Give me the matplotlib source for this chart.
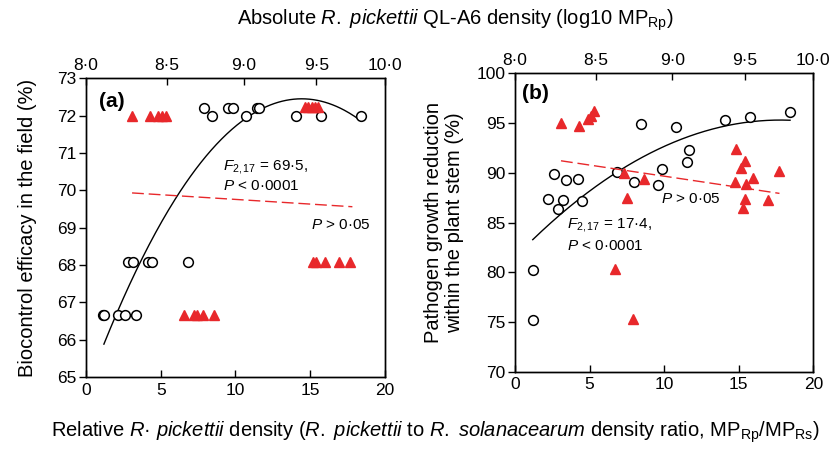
import numpy as np
import matplotlib
matplotlib.use("Agg")
import matplotlib.pyplot as plt
from matplotlib.ticker import NullLocator

plt.rcParams.update({
    "font.family": "Liberation Sans",
    "font.size": 12,
    "mathtext.fontset": "custom",
    "mathtext.rm": "Liberation Sans",
    "mathtext.it": "Liberation Sans:italic",
    "mathtext.bf": "Liberation Sans:bold",
    "axes.linewidth": 1.0,
})

RED = "#e8282b"

# ── data: relative density (bottom axis), open circles ──────────────────────
a_rel_x = [1.12, 1.22, 2.16, 2.63, 3.34, 2.83, 3.17, 4.17, 4.44, 6.80,
           7.89, 9.48, 9.81, 11.42, 11.57, 8.45, 10.70, 14.05, 15.72, 18.37]
a_rel_y = [66.67, 66.67, 66.67, 66.67, 66.67, 68.08, 68.08, 68.08, 68.08, 68.08,
           72.21, 72.21, 72.21, 72.21, 72.21, 72.0, 72.0, 72.0, 72.0, 72.0]

# absolute density (top axis, log10 MP_Rp), red triangles
a_abs_x = [8.28, 8.39, 8.44, 8.47, 8.49, 9.42, 9.44, 9.47, 9.49, 9.51,
           9.48, 9.50, 9.56, 9.66, 9.74, 8.61, 8.67, 8.69, 8.73, 8.80]
a_abs_y = [72.0, 72.0, 72.0, 72.0, 72.0, 72.24, 72.24, 72.24, 72.24, 72.24,
           68.08, 68.08, 68.08, 68.08, 68.08, 66.67, 66.67, 66.67, 66.67, 66.67]

b_rel_x = [2.23, 2.86, 3.19, 2.64, 3.42, 4.25, 4.47, 6.86, 7.98, 8.47,
           9.59, 9.88, 10.77, 11.53, 11.64, 14.08, 15.78, 18.44, 1.19, 1.23]
b_rel_y = [87.36, 86.36, 87.26, 89.88, 89.27, 89.34, 87.16, 90.11, 89.04, 94.90,
           88.77, 90.38, 94.63, 91.08, 92.29, 95.34, 95.61, 96.14, 80.26, 75.20]

b_abs_x = [8.28, 8.39, 8.45, 8.47, 8.49, 8.68, 8.70, 8.81, 9.44, 9.43,
           9.47, 9.50, 9.51, 9.56, 9.50, 9.49, 9.67, 9.75, 8.62, 8.74]
b_abs_y = [94.97, 94.70, 95.38, 95.74, 96.18, 89.95, 87.43, 89.34, 92.36, 89.04,
           90.45, 91.21, 88.87, 89.44, 87.33, 86.49, 87.26, 90.21, 80.33, 75.27]

# fitted curves
a_quad = [-0.03754, 1.0834, 64.634]     # relative density, quadratic
b_quad = [-0.0436, 1.552, 81.49]
a_quad_range = (1.2, 18.4)
b_quad_range = (1.19, 18.44)
a_lin = [-0.25, 72.0]                   # absolute density, linear
b_lin = [-2.23, 109.67]
a_lin_range = (8.28, 9.76)
b_lin_range = (8.28, 9.75)

top_ticks = [8.0, 8.5, 9.0, 9.5, 10.0]
top_ticklabels = ["8·0", "8·5", "9·0", "9·5", "10·0"]

TICK_FS = 12.5
NOTE_FS = 11
LABEL_FS = 14.5


def draw_panel(ax, rel_x, rel_y, abs_x, abs_y, quad, qrange, lin, lrange,
               ylim, yticks):
    ax.set_xlim(0, 20)
    ax.set_ylim(*ylim)
    ax.set_xticks([0, 5, 10, 15, 20])
    ax.set_yticks(yticks)
    ax.tick_params(axis="x", direction="in", length=5, width=1,
                   labelsize=TICK_FS, pad=4)
    ax.tick_params(axis="y", direction="out", length=5, width=1,
                   labelsize=TICK_FS, pad=2)

    xs = np.linspace(qrange[0], qrange[1], 200)
    ax.plot(xs, np.polyval(quad, xs), color="black", lw=1.0, zorder=2)
    ax.plot(rel_x, rel_y, "o", ms=7, mfc="white", mec="black", mew=1.1,
            zorder=3, clip_on=False)

    top = ax.twiny()
    top.set_xscale("log")
    top.set_xlim(8, 10)
    top.set_xticks(top_ticks)
    top.set_xticklabels(top_ticklabels)
    top.xaxis.set_minor_locator(NullLocator())
    top.tick_params(axis="x", direction="in", length=5, width=1,
                    labelsize=TICK_FS, pad=4)

    lx = np.array(lrange)
    top.plot(lx, np.polyval(lin, lx), color=RED, lw=1.0, dashes=(8.5, 3.5))
    top.plot(abs_x, abs_y, "^", ms=7.5, color=RED, mec=RED, zorder=3)
    top.set_ylim(*ylim)
    return top


fig = plt.figure(figsize=(8.37, 4.49), dpi=100)
ax_a = fig.add_axes([0.1027, 0.1604, 0.3572, 0.6652])
ax_b = fig.add_axes([0.6153, 0.1722, 0.3564, 0.6645])

top_a = draw_panel(ax_a, a_rel_x, a_rel_y, a_abs_x, a_abs_y, a_quad,
                   a_quad_range, a_lin, a_lin_range, (65, 73), range(65, 74))
top_b = draw_panel(ax_b, b_rel_x, b_rel_y, b_abs_x, b_abs_y, b_quad,
                   b_quad_range, b_lin, b_lin_range, (70, 100), range(70, 101, 5))

ax_a.set_ylabel("Biocontrol efficacy in the field (%)", fontsize=LABEL_FS,
                labelpad=14)
ax_b.set_ylabel("Pathogen growth reduction\nwithin the plant stem (%)",
                fontsize=LABEL_FS, labelpad=9, linespacing=1.1)

# panel labels and statistics
ax_a.text(0.87, 72.37, "(a)", fontsize=15, fontweight="bold", va="center")
ax_b.text(0.47, 97.99, "(b)", fontsize=15, fontweight="bold", va="center")

ax_a.text(9.14, 70.63, r"$\mathit{F}_{\mathrm{2,17}}$ = 69·5,", fontsize=NOTE_FS, va="center")
ax_a.text(9.14, 70.11, r"$\mathit{P}$ < 0·0001", fontsize=NOTE_FS, va="center")
ax_a.text(15.03, 69.07, r"$\mathit{P}$ > 0·05", fontsize=NOTE_FS, va="center")

ax_b.text(3.49, 84.75, r"$\mathit{F}_{\mathrm{2,17}}$ = 17·4,", fontsize=NOTE_FS, va="center")
ax_b.text(3.49, 82.67, r"$\mathit{P}$ < 0·0001", fontsize=NOTE_FS, va="center")
ax_b.text(9.79, 87.33, r"$\mathit{P}$ > 0·05", fontsize=NOTE_FS, va="center")

fig.text(0.544, 0.955,
         r"Absolute $\mathit{R.\ pickettii}$ QL-A6 density (log10 MP$_{\mathrm{Rp}}$)",
         ha="center", va="center", fontsize=LABEL_FS)
fig.text(0.52, 0.038,
         r"Relative $\mathit{R}$· $\mathit{pickettii}$ density ($\mathit{R.\ pickettii}$ to "
         r"$\mathit{R.\ solanacearum}$ density ratio, MP$_{\mathrm{Rp}}$/MP$_{\mathrm{Rs}}$)",
         ha="center", va="center", fontsize=LABEL_FS)

fig.savefig("out.png", dpi=100)
